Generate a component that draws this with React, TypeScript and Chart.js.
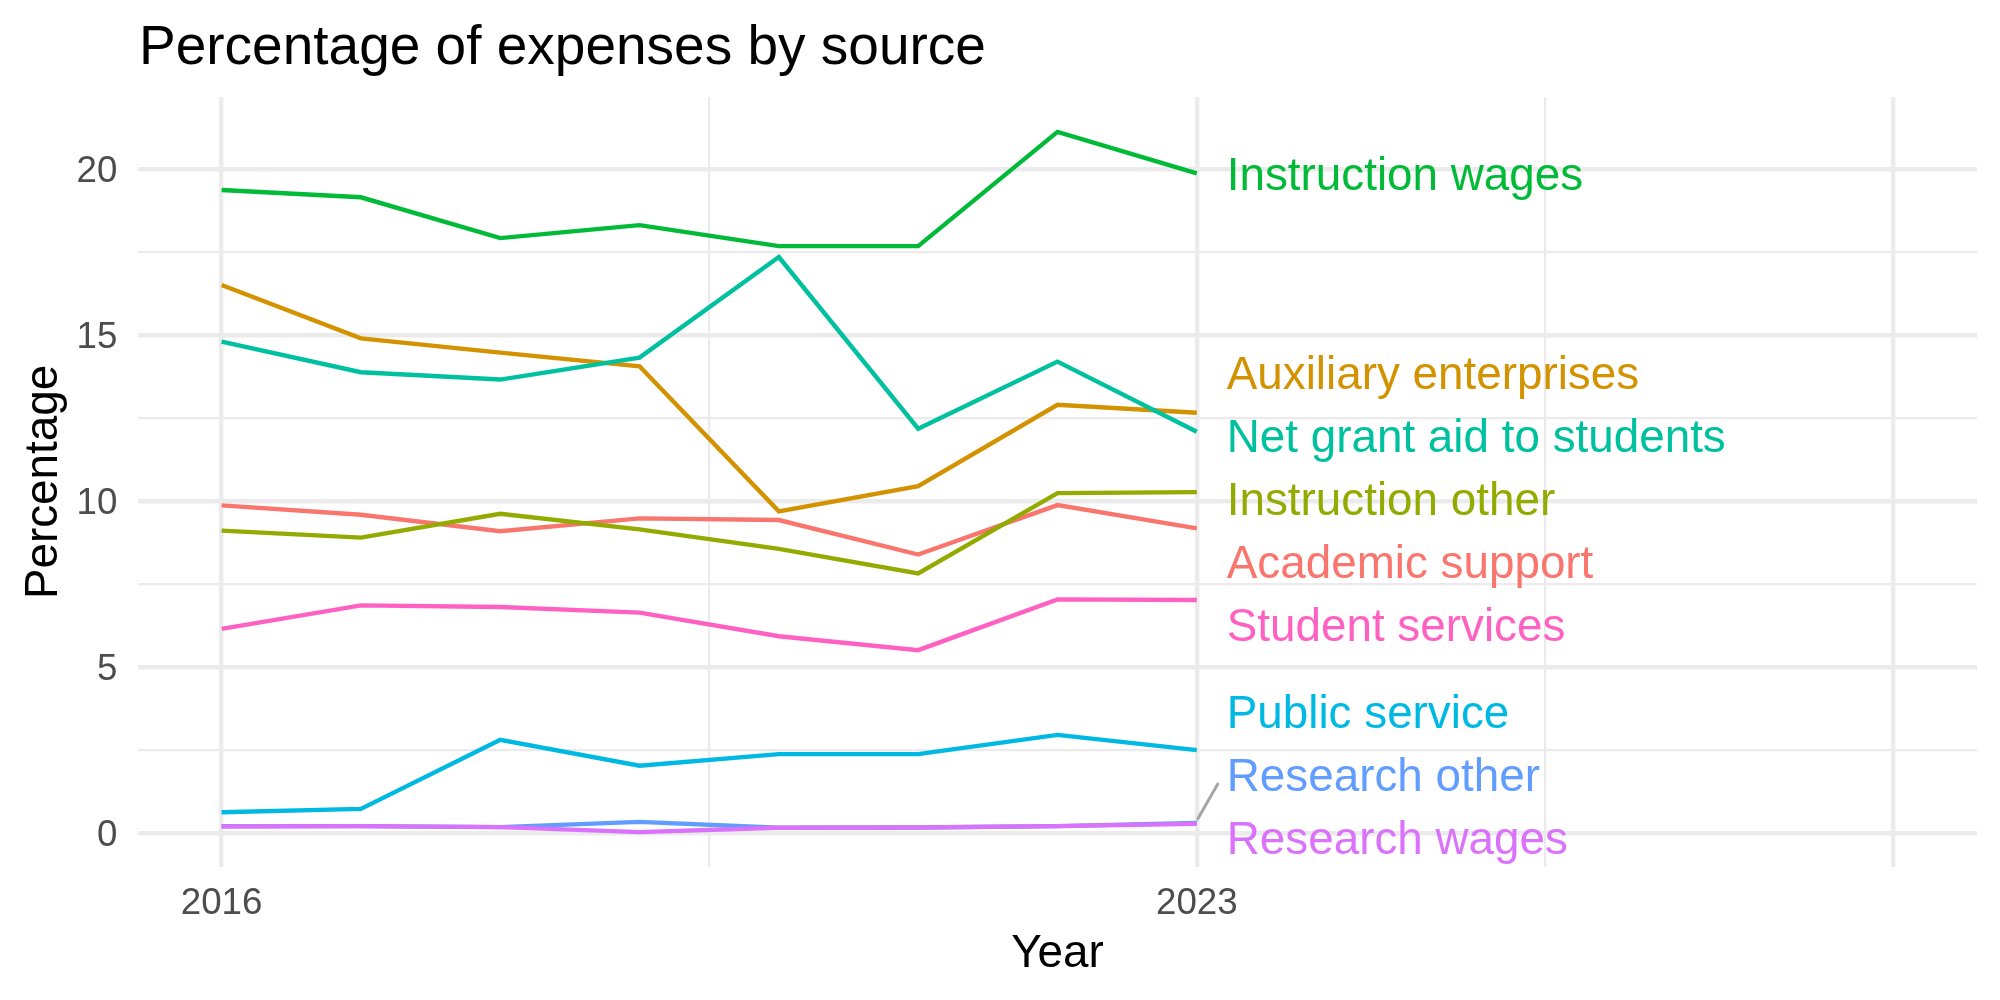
import React, { useEffect, useRef } from "react";
import { Chart, registerables } from "chart.js";

Chart.register(...registerables);

// Years on the x axis
const years = [2016, 2017, 2018, 2019, 2020, 2021, 2022, 2023];

// Expense sources (alphabetical, as plotted)
const categories = [
  "Academic support",
  "Auxiliary enterprises",
  "Instruction other",
  "Instruction wages",
  "Net grant aid to students",
  "Public service",
  "Research other",
  "Research wages",
  "Student services",
];

// Percentage of expenses, one value per year
const academicSupport = [9.86, 9.58, 9.08, 9.47, 9.42, 8.38, 9.87, 9.17];
const auxiliaryEnterprises = [16.5, 14.89, 14.46, 14.05, 9.68, 10.44, 12.89, 12.65];
const instructionOther = [9.1, 8.89, 9.61, 9.14, 8.55, 7.81, 10.23, 10.26];
const instructionWages = [19.36, 19.14, 17.91, 18.3, 17.67, 17.67, 21.11, 19.86];
const netGrantAid = [14.79, 13.87, 13.65, 14.31, 17.34, 12.17, 14.19, 12.08];
const publicService = [0.62, 0.72, 2.8, 2.02, 2.37, 2.37, 2.95, 2.49];
const researchOther = [0.2, 0.2, 0.17, 0.33, 0.15, 0.16, 0.2, 0.3];
const researchWages = [0.19, 0.2, 0.17, 0.02, 0.15, 0.16, 0.2, 0.27];
const studentServices = [6.14, 6.85, 6.8, 6.63, 5.92, 5.5, 7.03, 7.01];

const seriesValues = [
  academicSupport,
  auxiliaryEnterprises,
  instructionOther,
  instructionWages,
  netGrantAid,
  publicService,
  researchOther,
  researchWages,
  studentServices,
];

const seriesColors = [
  "#F8766D",
  "#D39200",
  "#93AA00",
  "#00BA38",
  "#00C19F",
  "#00B9E3",
  "#619CFF",
  "#DB72FB",
  "#FF61C3",
];

// Axis breaks
const yMajorTicks = [0, 5, 10, 15, 20];
const yMinorTicks = [2.5, 7.5, 12.5, 17.5];
const xMajorBreaks = [2016, 2023, 2028];
const xMinorBreaks = [2019.5, 2025.5];
const xTickLabels = [2016, 2023];

const X_MIN = 2015.4;
const X_MAX = 2028.6;
const Y_MIN = -1.03;
const Y_MAX = 22.16;

const TITLE = "Percentage of expenses by source";
const X_TITLE = "Year";
const Y_TITLE = "Percentage";

const FONT = '"Liberation Sans", Arial, Helvetica, sans-serif';
const GRID = "#EBEBEB";
const MAJOR_W = 4.4;
const MINOR_W = 2.2;
const LABEL_NUDGE_X = 0.215;
const LABEL_GAP = 63;
const LABEL_BIAS = 5;
const TEXT_DROP = 4;

// Spread end-of-line labels vertically so they do not overlap
function spreadLabels(ys: number[], gap: number, lo: number, hi: number): number[] {
  const order = ys.map((y, i) => i).sort((a, b) => ys[a] - ys[b]);
  type Block = { idx: number[]; top: number };
  const blocks: Block[] = [];
  const place = (idx: number[]) => {
    const mean = idx.reduce((s, k, j) => s + ys[k] - j * gap, 0) / idx.length;
    const shifted = idx.length > 1 ? mean + LABEL_BIAS : mean;
    return Math.max(lo, Math.min(shifted, hi - (idx.length - 1) * gap));
  };
  for (const k of order) {
    blocks.push({ idx: [k], top: place([k]) });
    while (blocks.length > 1) {
      const b = blocks[blocks.length - 1];
      const a = blocks[blocks.length - 2];
      if (a.top + a.idx.length * gap > b.top) {
        const idx = a.idx.concat(b.idx);
        blocks.splice(-2, 2, { idx, top: place(idx) });
      } else break;
    }
  }
  const out = new Array(ys.length).fill(0);
  for (const b of blocks) b.idx.forEach((k, j) => (out[k] = b.top + j * gap));
  return out;
}

const annotationsPlugin = {
  id: "annotations",
  afterDatasetsDraw(chart: any) {
    const { ctx, chartArea, scales } = chart;
    const xs = scales.x;
    const ys = scales.y;
    const lastYear = years[years.length - 1];
    const px = xs.getPixelForValue(lastYear);
    const endYs = seriesValues.map((v) => ys.getPixelForValue(v[v.length - 1]));
    const labelYs = spreadLabels(endYs, LABEL_GAP, chartArea.top + 30, chartArea.bottom - 30);
    const lx = xs.getPixelForValue(lastYear + LABEL_NUDGE_X);

    ctx.save();
    // connector segments for labels pushed far from their line end
    ctx.strokeStyle = "#A6A6A6";
    ctx.lineWidth = 3;
    ctx.lineCap = "round";
    categories.forEach((_, i) => {
      if (Math.abs(labelYs[i] - endYs[i]) > 46) {
        const dir = labelYs[i] < endYs[i] ? 1 : -1;
        ctx.beginPath();
        ctx.moveTo(px + 1, endYs[i] - 4 * dir);
        ctx.lineTo(lx - 9, labelYs[i] + 10 * dir);
        ctx.stroke();
      }
    });
    ctx.font = `45.8px ${FONT}`;
    ctx.textAlign = "left";
    ctx.textBaseline = "middle";
    categories.forEach((name, i) => {
      ctx.fillStyle = seriesColors[i];
      ctx.fillText(name, lx, labelYs[i] + TEXT_DROP);
    });
    ctx.restore();
  },
  afterDraw(chart: any) {
    const { ctx, chartArea } = chart;
    ctx.save();
    ctx.fillStyle = "#000000";
    ctx.textBaseline = "alphabetic";
    ctx.textAlign = "left";
    ctx.font = `55px ${FONT}`;
    ctx.fillText(TITLE, chartArea.left + 1, 64);

    ctx.font = `45.8px ${FONT}`;
    ctx.textAlign = "center";
    ctx.fillText(X_TITLE, (chartArea.left + chartArea.right) / 2, 967);

    ctx.translate(56.5, (chartArea.top + chartArea.bottom) / 2);
    ctx.rotate(-Math.PI / 2);
    ctx.fillText(Y_TITLE, 0, 0);
    ctx.restore();
  },
};

export default function App() {
  const canvasRef = useRef<HTMLCanvasElement | null>(null);

  useEffect(() => {
    const canvas = canvasRef.current;
    if (!canvas) return;
    const n = categories.length;
    const chart = new Chart(canvas, {
      type: "line",
      data: {
        datasets: categories.map((name, i) => ({
          label: name,
          data: years.map((yr, j) => ({ x: yr, y: seriesValues[i][j] })),
          borderColor: seriesColors[i],
          backgroundColor: seriesColors[i],
          borderWidth: 4.4,
          pointRadius: 0,
          tension: 0,
          fill: false,
          order: n - i,
        })),
      },
      options: {
        responsive: false,
        animation: false,
        devicePixelRatio: 1,
        layout: { padding: { top: 97, right: 23, left: 0, bottom: 0 } },
        plugins: {
          legend: { display: false },
          title: { display: false },
          tooltip: { enabled: false },
        },
        scales: {
          x: {
            type: "linear",
            min: X_MIN,
            max: X_MAX,
            border: { display: false },
            afterBuildTicks: (scale: any) => {
              scale.ticks = [...xMajorBreaks, ...xMinorBreaks]
                .sort((a, b) => a - b)
                .map((v) => ({ value: v }));
            },
            afterFit: (scale: any) => {
              scale.height = 133;
            },
            grid: {
              color: GRID,
              drawTicks: false,
              lineWidth: (c: any) =>
                c.tick && xMajorBreaks.includes(c.tick.value) ? MAJOR_W : MINOR_W,
            },
            ticks: {
              autoSkip: false,
              maxRotation: 0,
              padding: 15,
              color: "#4D4D4D",
              font: { family: FONT, size: 36.7 },
              callback: (v: any) => (xTickLabels.includes(Number(v)) ? String(v) : ""),
            },
          },
          y: {
            type: "linear",
            min: Y_MIN,
            max: Y_MAX,
            border: { display: false },
            afterBuildTicks: (scale: any) => {
              scale.ticks = [...yMajorTicks, ...yMinorTicks]
                .sort((a, b) => a - b)
                .map((v) => ({ value: v }));
            },
            afterFit: (scale: any) => {
              scale.width = 138;
            },
            grid: {
              color: GRID,
              drawTicks: false,
              lineWidth: (c: any) =>
                c.tick && yMajorTicks.includes(c.tick.value) ? MAJOR_W : MINOR_W,
            },
            ticks: {
              autoSkip: false,
              padding: 20.7,
              labelOffset: 3,
              color: "#4D4D4D",
              font: { family: FONT, size: 36.7 },
              callback: (v: any) => (yMajorTicks.includes(Number(v)) ? String(v) : ""),
            },
          },
        },
      },
      plugins: [annotationsPlugin],
    } as any);
    return () => chart.destroy();
  }, []);

  return (
    <div
      style={{
        position: "absolute",
        left: 0,
        top: 0,
        width: 2000,
        height: 1000,
        background: "#ffffff",
      }}
    >
      <canvas ref={canvasRef} width={2000} height={1000} style={{ display: "block" }} />
    </div>
  );
}
